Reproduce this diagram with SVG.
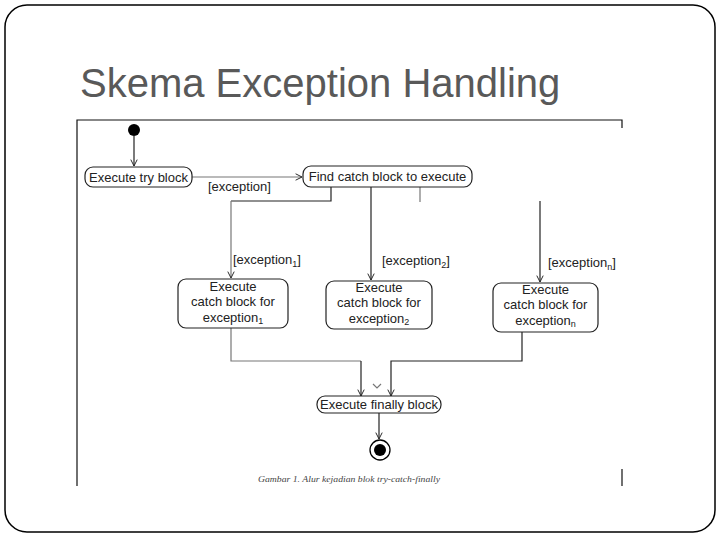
<svg xmlns="http://www.w3.org/2000/svg" width="720" height="540" viewBox="0 0 720 540">
<defs>
<marker id="open" viewBox="0 0 10 10" refX="9" refY="5" markerWidth="8" markerHeight="8" markerUnits="userSpaceOnUse" orient="auto">
<path d="M1,1 L9,5 L1,9" fill="none" stroke="#222" stroke-width="1.2"/>
</marker>
</defs>
<style>
.frame{fill:#fff;stroke:#000;stroke-width:1.5}
.title{font-family:"Liberation Sans",Arial,sans-serif;font-size:40px;fill:#595959}
.border{stroke:#111;stroke-width:1.2;fill:none}
.node rect{fill:#fff;stroke:#222;stroke-width:1.2}
.t{font-family:"Liberation Sans",Arial,sans-serif;font-size:13px;fill:#222}
.c{text-anchor:middle}
.sub{font-size:9px}
.edge{fill:none;stroke:#222;stroke-width:1.2}
.light{stroke:#777}
.cap{font-family:"Liberation Serif","Times New Roman",serif;font-style:italic;font-size:9px;fill:#444}
</style>
<rect class="frame" x="5" y="5" width="710" height="527" rx="22" ry="22"/>
<text class="title" x="80" y="97">Skema Exception Handling</text>
<g id="image-border">
<path class="border" d="M77,486 V120 H622 V128"/>
<path class="border" d="M622,469 V486"/>
</g>
<g id="connectors">
<line class="edge" x1="134" y1="136" x2="134" y2="166" marker-end="url(#open)"/>
<line class="edge light" x1="192" y1="177" x2="302" y2="177" marker-end="url(#open)"/>
<polyline class="edge" points="331,187 331,201 231,201"/>
<line class="edge light" x1="231" y1="201" x2="231" y2="278" marker-end="url(#open)"/>
<line class="edge" x1="371" y1="187" x2="371" y2="280" marker-end="url(#open)"/>
<line class="edge light" x1="420" y1="187" x2="420" y2="202"/>
<line class="edge" x1="540" y1="201" x2="540" y2="282" marker-end="url(#open)"/>
<polyline class="edge light" points="231,327 231,361 361,361"/>
<line class="edge" x1="361" y1="361" x2="361" y2="396" marker-end="url(#open)"/>
<polyline class="edge" points="522,332 522,361 391,361 391,396" marker-end="url(#open)"/>
<path class="edge light" d="M373,384 L377,388 L381,384"/>
<line class="edge" x1="379" y1="413" x2="379" y2="439" marker-end="url(#open)"/>
<text class="t" x="208" y="191">[exception]</text>
<text class="t" x="233" y="264">[exception<tspan class="sub" dy="3">1</tspan><tspan dy="-3">]</tspan></text>
<text class="t" x="382" y="265">[exception<tspan class="sub" dy="3">2</tspan><tspan dy="-3">]</tspan></text>
<text class="t" x="548" y="267">[exception<tspan class="sub" dy="3">n</tspan><tspan dy="-3">]</tspan></text>
</g>
<g id="initial">
<circle cx="134" cy="130" r="6" fill="#000"/>
</g>
<g id="try" class="node">
<rect x="85" y="167" width="107" height="20" rx="8"/>
<text class="t c" x="138.5" y="182">Execute try block</text>
</g>
<g id="find" class="node">
<rect x="303" y="166" width="169" height="21" rx="8"/>
<text class="t c" x="387.5" y="181">Find catch block to execute</text>
</g>
<g id="catch1" class="node">
<rect x="178" y="279" width="110" height="49" rx="8"/>
<text class="t c" x="233" y="291">Execute</text>
<text class="t c" x="233" y="306">catch block for</text>
<text class="t c" x="233" y="322">exception<tspan class="sub" dy="2">1</tspan></text>
</g>
<g id="catch2" class="node">
<rect x="326" y="281" width="106" height="48" rx="8"/>
<text class="t c" x="379" y="292">Execute</text>
<text class="t c" x="379" y="307">catch block for</text>
<text class="t c" x="379" y="323">exception<tspan class="sub" dy="2">2</tspan></text>
</g>
<g id="catchn" class="node">
<rect x="493" y="283" width="105" height="49" rx="8"/>
<text class="t c" x="545.5" y="294">Execute</text>
<text class="t c" x="545.5" y="309">catch block for</text>
<text class="t c" x="545.5" y="325">exception<tspan class="sub" dy="2">n</tspan></text>
</g>
<g id="finally" class="node">
<rect x="317" y="396" width="124" height="17" rx="8"/>
<text class="t c" x="379" y="409">Execute finally block</text>
</g>
<g id="final">
<circle cx="380" cy="450" r="10" fill="#fff" stroke="#000" stroke-width="1.3"/>
<circle cx="380" cy="450" r="6" fill="#000"/>
</g>
<text class="cap" x="258" y="482" textLength="182" lengthAdjust="spacingAndGlyphs">Gambar 1. Alur kejadian blok try-catch-finally</text>
</svg>
